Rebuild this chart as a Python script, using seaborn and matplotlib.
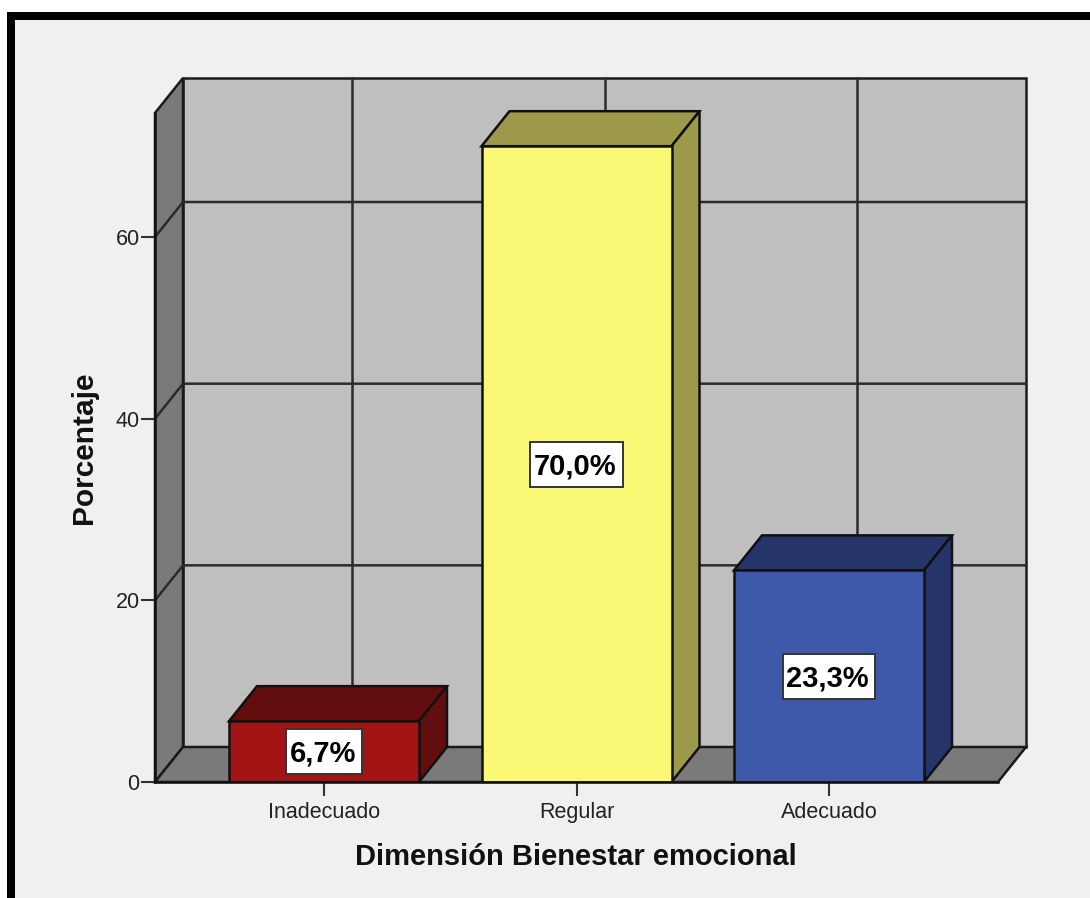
import pandas as pd
import seaborn as sns
import matplotlib.pyplot as plt
from matplotlib.patches import Rectangle

categorias = ['Inadecuado', 'Regular', 'Adecuado']
porcentajes = [6.7, 70.0, 23.3]
etiquetas = ['6,7%', '70,0%', '23,3%']
colores = ['#a31515', '#fbf876', '#3e58aa']
colores_oscuros = ['#620e0e', '#9c9a4a', '#25356a']
ticks_y = [0, 20, 40, 60]

W, H = 1090, 898
sns.set_theme(style='white')
plt.rcParams['font.family'] = ['Liberation Sans', 'DejaVu Sans']

fig = plt.figure(figsize=(W / 100, H / 100), dpi=100, facecolor='white')

# marco negro y fondo gris
fig.add_artist(Rectangle((7 / W, 0), 1, 1 - 12 / H, transform=fig.transFigure, fc='black', ec='none', zorder=-2))
fig.add_artist(Rectangle((15 / W, 0), 1, 1 - 20 / H, transform=fig.transFigure, fc='#f0f0f0', ec='none', zorder=-1))

ax = fig.add_axes([155 / W, 1 - 782 / H, (998 - 155) / W, (782 - 113) / H])
ax.patch.set_visible(False)

# escala: 252.5 px por categoria, 9.083 px por punto porcentual
xmin, xmax = -169 / 252.5, 674 / 252.5
ymax = 669 / 9.083
dx, dy = 28 / 252.5, 35 / 9.083
ancho = 190 / 252.5
linea = '#1a1a1a'

# pared del fondo, pared izquierda y suelo
ax.fill([xmin + dx, xmax + dx, xmax + dx, xmin + dx], [dy, dy, ymax + dy, ymax + dy],
        fc='#bfbfbf', ec=linea, lw=1.8, clip_on=False, zorder=1)
ax.fill([xmin, xmin + dx, xmin + dx, xmin], [0, dy, ymax + dy, ymax],
        fc='#7a7a7a', ec=linea, lw=1.8, clip_on=False, zorder=1)
ax.fill([xmin, xmax, xmax + dx, xmin + dx], [0, 0, dy, dy],
        fc='#7a7a7a', ec=linea, lw=1.8, clip_on=False, zorder=1)

# rejilla
for t in ticks_y[1:]:
    ax.plot([xmin, xmin + dx, xmax + dx], [t, t + dy, t + dy], color='#2b2b2b', lw=1.8, clip_on=False, zorder=1.5)
for i in range(len(categorias)):
    ax.plot([i + dx, i + dx], [dy, ymax + dy], color='#2b2b2b', lw=1.8, clip_on=False, zorder=1.5)

df = pd.DataFrame({'cat': categorias, 'pct': porcentajes})
sns.barplot(data=df, x='cat', y='pct', hue='cat', order=categorias, hue_order=categorias,
            palette=colores, dodge=False, width=ancho, edgecolor='#111111', linewidth=1.8,
            legend=False, saturation=1, ax=ax, zorder=3)

ax.set_xlim(xmin, xmax)
ax.set_ylim(0, ymax)

# caras laterales y superiores de cada barra, y etiqueta en una caja blanca
render = fig.canvas.get_renderer()
for i, (v, oscuro) in enumerate(zip(porcentajes, colores_oscuros)):
    izq, der = i - ancho / 2, i + ancho / 2
    ax.fill([izq, der, der + dx, izq + dx], [v, v, v + dy, v + dy],
            fc=oscuro, ec='#111111', lw=1.8, clip_on=False, zorder=2.5)
    ax.fill([der, der + dx, der + dx, der], [0, dy, v + dy, v],
            fc=oscuro, ec='#111111', lw=1.8, clip_on=False, zorder=2.5)
    txt = ax.annotate(etiquetas[i], (i, v / 2), xytext=(-1, -1.5), textcoords='offset points',
                      ha='center', va='center', fontsize=21, fontweight='bold', color='black', zorder=6)
    caja_w = (txt.get_window_extent(render).width + 10) / 252.5
    caja_h = 45 / 9.083
    ax.add_patch(Rectangle((i - caja_w / 2, v / 2 - caja_h / 2), caja_w, caja_h,
                           fc='white', ec='#333333', lw=1.4, zorder=5))

ax.set_yticks(ticks_y)
ax.set_xticks(range(len(categorias)))
ax.set_xticklabels(categorias)
ax.tick_params(axis='y', length=10, width=1.5, color='#333333', labelsize=15.5, labelcolor='#222222', pad=1, left=True)
ax.tick_params(axis='x', length=10, width=1.5, color='#333333', labelsize=15.5, labelcolor='#222222', pad=4.5, bottom=True)

for lado in ['top', 'right']:
    ax.spines[lado].set_visible(False)
for lado in ['left', 'bottom']:
    ax.spines[lado].set_color('#111111')
    ax.spines[lado].set_linewidth(1.8)
    ax.spines[lado].set_zorder(4)

ax.set_xlabel('')
ax.set_ylabel('')
fig.text(576 / W, 1 - 857 / H, 'Dimensión Bienestar emocional', ha='center', va='center',
         fontsize=21, fontweight='bold', color='#111111')
fig.text(84 / W, 1 - 448 / H, 'Porcentaje', ha='center', va='center', rotation=90,
         fontsize=21.5, fontweight='bold', color='#111111')

fig.savefig('out.png', dpi=100, facecolor=fig.get_facecolor())
